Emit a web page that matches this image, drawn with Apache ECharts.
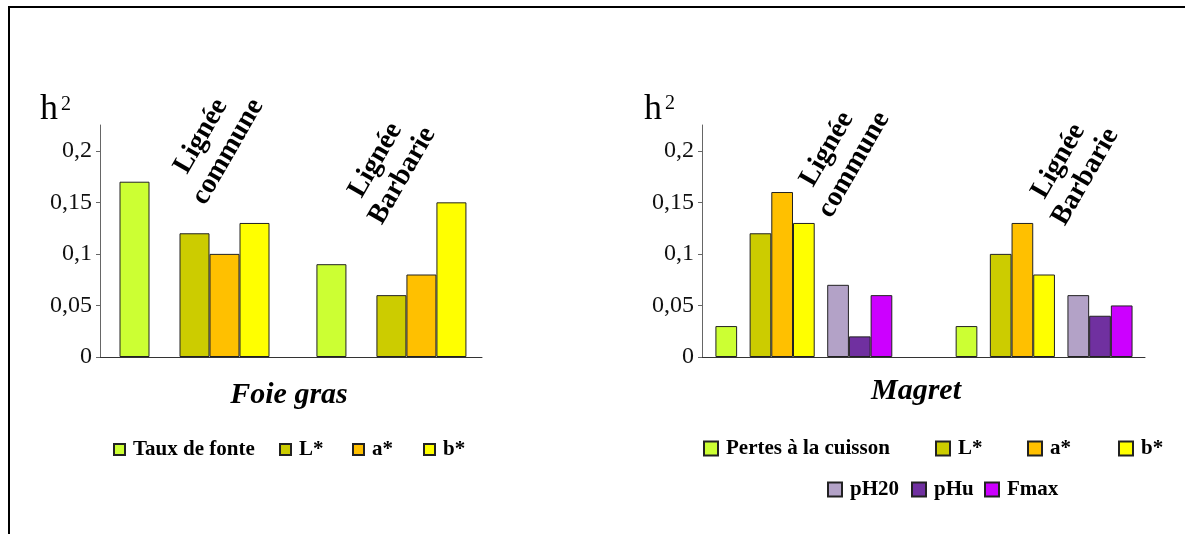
<!DOCTYPE html>
<html>
<head>
<meta charset="utf-8">
<script src="https://cdn.jsdelivr.net/npm/echarts@6/dist/echarts.min.js"></script>
<style>
html,body{margin:0;padding:0;background:#fff;}
#c{width:1185px;height:534px;}
</style>
</head>
<body>
<div id="c"></div>
<script>
// ---- data ----
const categories = ['Lignée commune', 'Lignée Barbarie'];
const yTicks = [0, 0.05, 0.1, 0.15, 0.2];
const yMax = 0.225;

// Foie gras
const foieNames = ['Taux de fonte', 'L*', 'a*', 'b*'];
const foieTaux = [0.17, 0.09];
const foieL = [0.12, 0.06];
const foieA = [0.10, 0.08];
const foieB = [0.13, 0.15];

// Magret
const magretNames = ['Pertes à la cuisson', 'L*', 'a*', 'b*', 'pH20', 'pHu', 'Fmax'];
const magPertes = [0.03, 0.03];
const magL = [0.12, 0.10];
const magA = [0.16, 0.13];
const magB = [0.13, 0.08];
const magPH20 = [0.07, 0.06];
const magPHu = [0.02, 0.04];
const magFmax = [0.06, 0.05];

// ---- style ----
const colors = {
  'Taux de fonte': '#CCFF33', 'Pertes à la cuisson': '#CCFF33',
  'L*': '#CCCC00', 'a*': '#FFC000', 'b*': '#FFFF00',
  'pH20': '#B3A2C7', 'pHu': '#7030A0', 'Fmax': '#CC00FF'
};
const SERIF = '"Liberation Serif", "Times New Roman", serif';

function bar(name, values, idx, width) {
  return {
    type: 'bar', name: name, xAxisIndex: idx, yAxisIndex: idx,
    barWidth: width, barGap: '0%',
    data: values.map((v, i) => [i + 1, v]),
    itemStyle: { color: colors[name], borderColor: '#222', borderWidth: 1 },
    emphasis: { disabled: true }, silent: true
  };
}
function gap(id, idx, width) {
  return {
    type: 'bar', name: id, xAxisIndex: idx, yAxisIndex: idx,
    barWidth: width, barGap: '0%',
    data: categories.map((c, i) => [i + 1, null]), silent: true
  };
}

const series = [
  bar(foieNames[0], foieTaux, 0, 30),
  gap('_g0', 0, 30),
  bar(foieNames[1], foieL, 0, 30),
  bar(foieNames[2], foieA, 0, 30),
  bar(foieNames[3], foieB, 0, 30),

  bar(magretNames[0], magPertes, 1, 21.7),
  gap('_g1', 1, 12.5),
  bar(magretNames[1], magL, 1, 21.7),
  bar(magretNames[2], magA, 1, 21.7),
  bar(magretNames[3], magB, 1, 21.7),
  gap('_g2', 1, 12.5),
  bar(magretNames[4], magPH20, 1, 21.7),
  bar(magretNames[5], magPHu, 1, 21.7),
  bar(magretNames[6], magFmax, 1, 21.7)
];

function yAxis(idx) {
  return {
    type: 'value', gridIndex: idx, min: 0, max: yMax, interval: 0.05,
    axisLine: { show: true, lineStyle: { color: '#666', width: 1 } },
    axisTick: { show: true, inside: false, length: 4, customValues: yTicks, lineStyle: { color: '#666' } },
    axisLabel: {
      customValues: yTicks, margin: 8,
      fontFamily: SERIF, fontSize: 24, color: '#111',
      formatter: v => String(v).replace('.', ',')
    },
    splitLine: { show: false }
  };
}
function xAxis(idx, min, max) {
  return {
    type: 'value', gridIndex: idx, min: min, max: max,
    axisLine: { show: true, onZero: false, lineStyle: { color: '#333', width: 1 } },
    axisTick: { show: false }, axisLabel: { show: false }, splitLine: { show: false }
  };
}

function legendItem(name, left, top, size) {
  return {
    data: [name], left: left, top: top, padding: 0, orient: 'horizontal',
    icon: 'rect', itemWidth: size, itemHeight: size, selectedMode: false,
    textStyle: { fontFamily: SERIF, fontWeight: 'bold', fontSize: 21, color: '#000', padding: [0, 0, 0, 3] }
  };
}

function label(text, x, y) {
  return {
    type: 'text', x: x, y: y, rotation: Math.PI / 3, silent: true,
    style: {
      text: text.replace(' ', '\n'), fill: '#000',
      font: 'bold 28px ' + SERIF, align: 'center', verticalAlign: 'middle', lineHeight: 31
    }
  };
}
function txt(text, x, y, font, align) {
  return { type: 'text', x: x, y: y, silent: true,
    style: { text: text, fill: '#000', font: font, align: align || 'left', verticalAlign: 'middle' } };
}

const option = {
  backgroundColor: '#fff',
  animation: false,
  grid: [
    { left: 100, top: 125, width: 382, height: 232 },
    { left: 702, top: 125, width: 443, height: 232 }
  ],
  xAxis: [xAxis(0, 0.52, 2.46), xAxis(1, 0.576, 2.42)],
  yAxis: [yAxis(0), yAxis(1)],
  legend: [
    legendItem(foieNames[0], 113, 439, 11),
    legendItem(foieNames[1], 279, 439, 11),
    legendItem(foieNames[2], 352, 439, 11),
    legendItem(foieNames[3], 423, 439, 11),
    legendItem(magretNames[0], 703, 438, 14),
    legendItem(magretNames[1], 935, 438, 14),
    legendItem(magretNames[2], 1027, 438, 14),
    legendItem(magretNames[3], 1118, 438, 14),
    legendItem(magretNames[4], 827, 479, 14),
    legendItem(magretNames[5], 911, 479, 14),
    legendItem(magretNames[6], 984, 479, 14)
  ],
  graphic: [
    { type: 'rect', silent: true, shape: { x: 9, y: 7, width: 1400, height: 800 },
      style: { fill: 'none', stroke: '#000', lineWidth: 2 } },
    txt('h', 40, 110, '36px ' + SERIF),
    txt('2', 61, 105, '20px ' + SERIF),
    txt('h', 644, 110, '36px ' + SERIF),
    txt('2', 665, 104, '20px ' + SERIF),
    label(categories[0], 214.5, 144),
    label(categories[1], 389, 168),
    label(categories[0], 840.5, 157),
    label(categories[1], 1072, 169),
    txt('Foie gras', 289, 395, 'italic bold 30px ' + SERIF, 'center'),
    txt('Magret', 916, 391.5, 'italic bold 30px ' + SERIF, 'center')
  ],
  series: series
};

const chart = echarts.init(document.getElementById('c'), null, { renderer: 'canvas' });
chart.setOption(option);
</script>
</body>
</html>
